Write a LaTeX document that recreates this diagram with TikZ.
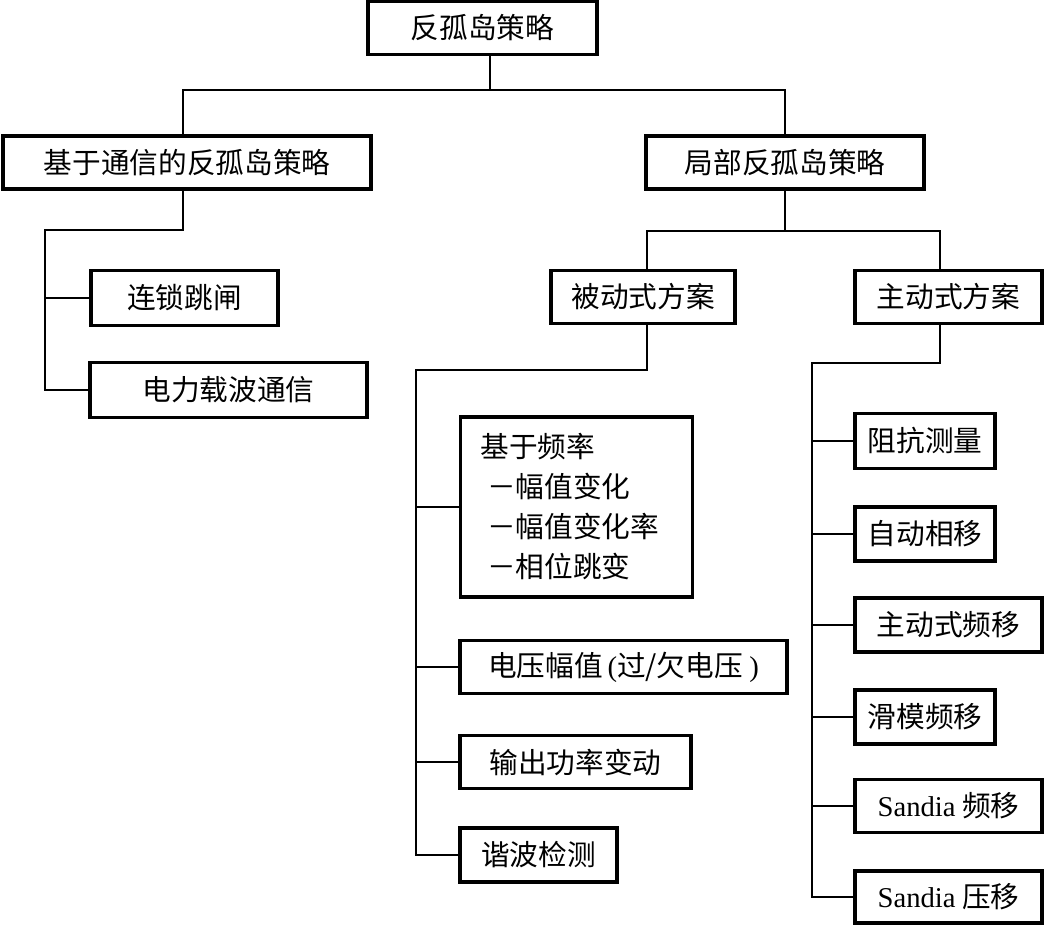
\documentclass[tikz,border=0pt]{standalone}
\usepackage{fontspec}
\setmainfont{Liberation Serif}
\newfontfamily\cjk{Noto Sans CJK SC}
\usetikzlibrary{positioning,calc}

\begin{document}
\begin{tikzpicture}[x=0.75pt, y=-0.75pt,
  stratbox/.style={draw, line width=2.6pt, inner sep=0pt, font=\cjk\fontsize{21.5}{30}\selectfont},
  link/.style={line width=1pt}]

\useasboundingbox (0,0) rectangle (1044,925);

% Top level
\node[stratbox, minimum width=171.75pt, minimum height=39.75pt] (top) at (482.5,28) {反孤岛策略};

% Second level
\node[stratbox, minimum width=276pt, minimum height=39.75pt] (comm) at (187,162.5) {基于通信的反孤岛策略};
\node[stratbox, minimum width=208.5pt, minimum height=39.75pt] (local) at (785,162.5) {局部反孤岛策略};

% Communication based
\node[stratbox, minimum width=140.25pt, minimum height=41.25pt] (trip) at (184.5,298) {连锁跳闸};
\node[stratbox, minimum width=207.75pt, minimum height=41.25pt] (power) at (228.5,390) {电力载波通信};

% Local schemes
\node[stratbox, minimum width=138pt, minimum height=39.75pt] (passive) at (643,297) {被动式方案};
\node[stratbox, minimum width=140.25pt, minimum height=39.75pt] (active) at (948.5,297) {主动式方案};

% Passive methods
\node[stratbox, minimum height=135pt, text width=144pt, inner xsep=15pt, align=left] (freq) at (576.5,507)
  {基于频率\\ \hspace*{5pt}－幅值变化\\ \hspace*{5pt}－幅值变化率\\ \hspace*{5pt}－相位跳变};
\node[stratbox, minimum width=245.25pt, minimum height=39.75pt] (volt) at (623.5,667) {电压幅值\,{\rmfamily(}过/欠电压\ {\rmfamily)}};
\node[stratbox, minimum width=173.25pt, minimum height=39.75pt] (outp) at (575.5,762) {输出功率变动};
\node[stratbox, minimum width=117.75pt, minimum height=40.5pt] (harm) at (538.5,855) {谐波检测};

% Active methods
\node[stratbox, minimum width=105pt, minimum height=41.25pt] (imp) at (925,441) {阻抗测量};
\node[stratbox, minimum width=105pt, minimum height=40.5pt] (aps) at (925,534) {自动相移};
\node[stratbox, minimum width=140.25pt, minimum height=40.5pt] (afd) at (948.5,625) {主动式频移};
\node[stratbox, minimum width=105pt, minimum height=40.5pt] (smf) at (925,717) {滑模频移};
\node[stratbox, minimum width=140.25pt, minimum height=39.75pt] (sfs) at (948.5,806) {{\rmfamily Sandia} 频移};
\node[stratbox, minimum width=140.25pt, minimum height=39pt] (svs) at (948.5,897) {{\rmfamily Sandia} 压移};

% Junctions
\coordinate (rootbar) at (490,90);
\coordinate (commbar) at (45,230);
\coordinate (localbar) at (785,231);
\coordinate (pasbar) at (416,370);
\coordinate (actbar) at (812,363);
% drop lines that sit off the box centres
\coordinate (commdrop) at (183,0);
\coordinate (pasdrop) at (647,0);
\coordinate (actdrop) at (940,0);

% Tree connectors
\draw[link] (top.south -| rootbar) -- (rootbar);
\draw[link] (comm.north -| commdrop) |- (rootbar) -| (local.north);

\draw[link] (comm.south -| commdrop) |- (commbar) |- (power.west);
\draw[link] (commbar |- trip.west) -- (trip.west);

\draw[link] (local.south) -- (localbar);
\draw[link] (passive.north -| pasdrop) |- (localbar) -| (active.north -| actdrop);

\draw[link] (passive.south -| pasdrop) |- (pasbar) |- (harm.west);
\foreach \n in {freq,volt,outp}
  \draw[link] (pasbar |- \n.west) -- (\n.west);

\draw[link] (active.south -| actdrop) |- (actbar) |- (svs.west);
\foreach \n in {imp,aps,afd,smf,sfs}
  \draw[link] (actbar |- \n.west) -- (\n.west);

\end{tikzpicture}
\end{document}
